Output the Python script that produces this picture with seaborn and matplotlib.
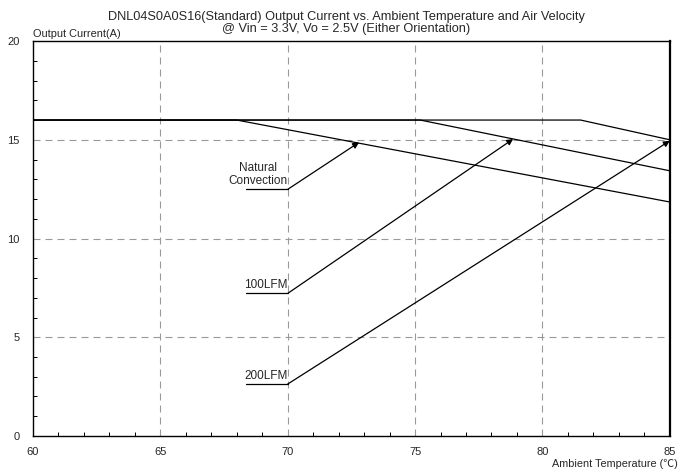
import matplotlib
matplotlib.use("Agg")
import matplotlib.pyplot as plt
import pandas as pd
import seaborn as sns
from matplotlib.ticker import MultipleLocator

# curvas de derating (temperatura, corrente)
temp_nc = [60, 68.0, 85]
curr_nc = [16, 16, 11.85]
temp_100 = [60, 75.2, 85]
curr_100 = [16, 16, 13.43]
temp_200 = [60, 81.5, 85]
curr_200 = [16, 16, 15.0]

labels = ["Natural\nConvection", "100LFM", "200LFM"]
tails = [(70.0, 12.49), (70.0, 7.22), (70.0, 2.63)]   # inicio das setas
tips = [(72.8, 14.87), (78.85, 15.04), (85.0, 14.95)]  # ponta das setas
underline_start = 68.38

df = pd.concat([
    pd.DataFrame({"temp": temp_nc, "curr": curr_nc, "air": "nc"}),
    pd.DataFrame({"temp": temp_100, "curr": curr_100, "air": "100"}),
    pd.DataFrame({"temp": temp_200, "curr": curr_200, "air": "200"}),
])

sns.set_style("white")
plt.rcParams["font.family"] = ["Liberation Sans", "Noto Sans CJK SC", "DejaVu Sans"]

fig = plt.figure(figsize=(6.8, 4.72), dpi=100)
ax = fig.add_axes([0.0485, 0.0763, 0.9365, 0.8367])

sns.lineplot(data=df, x="temp", y="curr", units="air", estimator=None,
             color="black", linewidth=0.9, ax=ax, legend=False)

for lab, (tx, ty), (hx, hy) in zip(labels, tails, tips):
    ax.plot([underline_start, tx], [ty, ty], color="black", linewidth=0.9)
    ax.annotate("", xy=(hx, hy), xytext=(tx, ty),
                arrowprops=dict(arrowstyle="-|>", color="black", lw=0.9,
                                mutation_scale=9, shrinkA=0, shrinkB=0))
    ax.text(tx, ty + 0.12, lab, ha="right", va="bottom", fontsize=8.5,
            multialignment="center", linespacing=1.15)

ax.set_xlim(60, 85)
ax.set_ylim(0, 20)
ax.xaxis.set_major_locator(MultipleLocator(5))
ax.yaxis.set_major_locator(MultipleLocator(5))
ax.xaxis.set_minor_locator(MultipleLocator(1))
ax.yaxis.set_minor_locator(MultipleLocator(1))
ax.tick_params(which="major", length=0, labelsize=8, pad=8)
ax.tick_params(axis="y", which="major", pad=9.4)
ax.tick_params(which="minor", direction="in", length=3, width=0.7, color="black",
               bottom=True, left=True)
ax.set_xlabel("")
ax.set_ylabel("")

for v in [65, 70, 75, 80]:
    ax.axvline(v, color="#999999", linewidth=0.8, linestyle=(0, (6.3, 4.5)), zorder=0)
for v in [5, 10, 15]:
    ax.axhline(v, color="#999999", linewidth=0.8, linestyle=(0, (6.3, 4.5)), zorder=0)

for s in ax.spines.values():
    s.set_color("black")
    s.set_linewidth(1.0)
ax.spines["right"].set_linewidth(1.6)

fig.text(0.509, 0.9576, "DNL04S0A0S16(Standard) Output Current vs. Ambient Temperature and Air Velocity",
         ha="center", va="baseline", fontsize=9.2)
fig.text(0.509, 0.9322, "@ Vin = 3.3V, Vo = 2.5V (Either Orientation)",
         ha="center", va="baseline", fontsize=9.2)
fig.text(0.0485, 0.9216, "Output Current(A)", ha="left", va="baseline", fontsize=7.9)
fig.text(0.997, 0.011, "Ambient Temperature (℃)", ha="right", va="baseline", fontsize=7.8)

fig.savefig("out.png", dpi=100)
